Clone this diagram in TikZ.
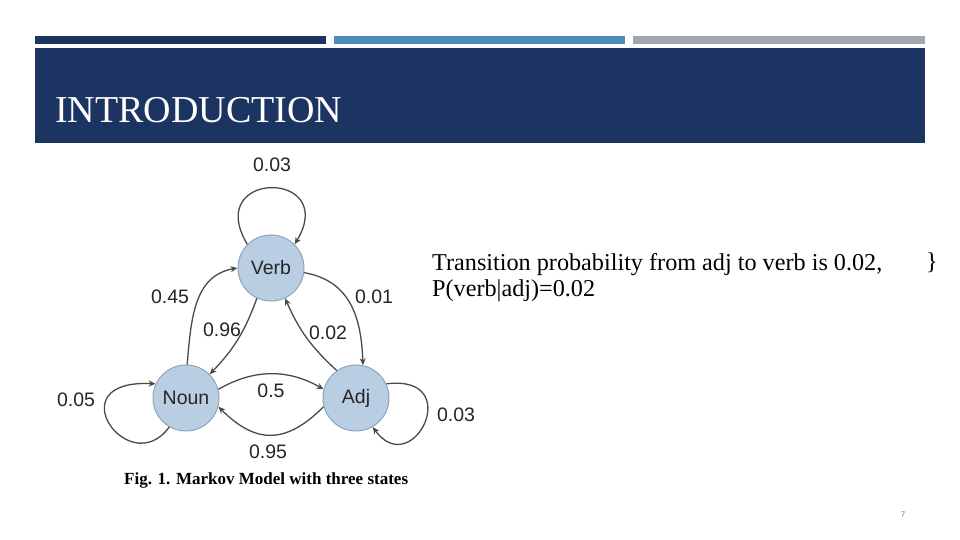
\documentclass[tikz,border=0pt]{standalone}
\usepackage{fontspec}
\setmainfont{Liberation Serif}
\newfontfamily\lblfont{Liberation Sans}
\usetikzlibrary{arrows.meta}
\definecolor{navy}{HTML}{1C3461}
\definecolor{barblue}{HTML}{4A8DB8}
\definecolor{bargrey}{HTML}{A2A6AD}
\definecolor{stfill}{HTML}{B9CDE3}
\definecolor{stline}{HTML}{8FA4BD}
\definecolor{edgec}{HTML}{4A4A4A}
\definecolor{pgnum}{HTML}{6A8090}
\tikzset{
  state/.style={circle,fill=stfill,draw=stline,line width=1pt,minimum size=66pt,inner sep=0pt,font=\lblfont\fontsize{19.5}{21}\selectfont,text=black!85},
  prob/.style={font=\lblfont\fontsize{19.5}{21}\selectfont,text=black!85,inner sep=0pt},
  trans/.style={draw=edgec,line width=1.3pt,-{Stealth[length=7pt,width=6pt]}},
}
\begin{document}
\begin{tikzpicture}[x=1pt,y=1pt]
\useasboundingbox (0,0) rectangle (960,540);
\fill[white] (0,0) rectangle (960,540);
% top bars
\fill[navy] (35,496) rectangle (326,504);
\fill[barblue] (334,496) rectangle (625,504);
\fill[bargrey] (633,496) rectangle (925,504);
% header
\fill[navy] (35,397) rectangle (925,492);
\node[anchor=base west,inner sep=0pt,text=white,font=\fontsize{38}{40}\selectfont] (title) at (55,417) {INTRODUCTION};
% states
\node[state] (verb) at (271,272) {Verb};
\node[state] (noun) at (186,142) {Noun};
\node[state] (adj) at (356,142) {Adj};
% loops
\draw[trans] (verb.135) .. controls +(-45,75) and +(45,75) .. (verb.45);
\draw[trans] (noun.240) .. controls +(-40,-55) and +(-100,5) .. (noun.155);
\draw[trans] (adj.25) .. controls +(80,10) and +(40,-55) .. (adj.300);
% edges
\draw[trans] (noun.88) to[out=85,in=190,looseness=1.05] (verb.west);
\draw[trans] (verb.245) to[bend left=12] (noun.45);
\draw[trans] (adj.125) to[bend left=12] (verb.295);
\draw[trans] (verb.-8) to[out=-10,in=92,looseness=1.1] (adj.78);
\draw[trans] (noun.15) to[bend left=30] (adj.165);
\draw[trans] (adj.195) to[bend left=45,looseness=1.3] (noun.-15);
% labels
\node[prob] (p1) at (272,375) {0.03};
\node[prob] (p2) at (170,243) {0.45};
\node[prob] (p3) at (222,210) {0.96};
\node[prob] (p4) at (328,207) {0.02};
\node[prob] (p5) at (374,243) {0.01};
\node[prob] (p6) at (76,140) {0.05};
\node[prob] (p7) at (271,149) {0.5};
\node[prob] (p8) at (456,125) {0.03};
\node[prob] (p9) at (268,88) {0.95};
% text
\node[anchor=base west,inner sep=0pt,font=\fontsize{24.2}{26}\selectfont] (t1) at (432,269) {Transition probability from adj to verb is 0.02,};
\node[anchor=base west,inner sep=0pt,font=\fontsize{24.2}{26}\selectfont] (t2) at (432,243) {P(verb|adj)=0.02};
\node[anchor=base,inner sep=0pt,font=\fontsize{24.2}{26}\selectfont] (brace) at (932,270) {\}};
\node[anchor=base west,inner sep=0pt,font=\bfseries\fontsize{17}{19}\selectfont] (cap) at (124,55) {Fig. 1. Markov Model with three states};
\node[inner sep=0pt,text=pgnum,font=\lblfont\fontsize{8}{9}\selectfont] (pg) at (903,25) {7};
\end{tikzpicture}
\end{document}
